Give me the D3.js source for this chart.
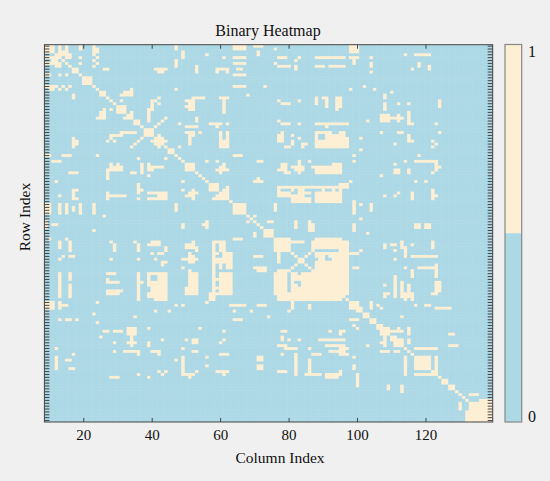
<!DOCTYPE html>
<html>
<head>
<meta charset="utf-8">
<script src="https://cdn.jsdelivr.net/npm/d3@7/dist/d3.min.js"></script>
<style>
  html, body { margin: 0; padding: 0; background: #f0f0f0; }
  svg { display: block; }
  text { font-family: "Liberation Serif", "Times New Roman", serif; fill: #111; }
</style>
</head>
<body>
<svg id="chart" width="550" height="481"></svg>
<script>
// ---------------- data ----------------
const rowIndex = d3.range(9, 140);      // row node indices (top -> bottom)
const colIndex = d3.range(9, 140);      // column node indices
const xTickValues = [20, 40, 60, 80, 100, 120];
const colorbarTicks = [0, 1];
const binaryValues = [0, 1];
// cells equal to 1, given as [rowStart, rowEnd, colStart, colEnd] (inclusive);
// the matrix is symmetric and its diagonal is 1
const onesBlocks = [
  // rows 9-52, cols 9-52
  [9,11,9,11],[9,10,13,13],[9,10,15,15],[9,10,19,19],[9,11,23,23],[9,10,47,47],[12,12,49,49],
  [11,11,13,14],[12,12,14,15],[13,13,15,16],[14,14,12,12],[12,13,16,16],
  [13,13,10,12],[15,15,10,12],[17,18,17,18],[20,22,20,22],
  [12,12,23,23],[14,14,23,23],[16,16,23,23],[17,17,26,26],[17,17,41,44],[18,18,42,42],
  [19,19,10,10],[19,19,13,13],[19,19,15,15],[24,24,10,11],[24,24,13,13],[24,24,15,15],
  [24,24,47,47],[27,27,17,17],[25,26,25,26],[26,26,31,32],[25,25,33,34],[30,32,30,32],
  [27,27,42,42],[28,28,41,41],[30,30,40,40],[31,31,39,39],[32,32,39,39],[34,35,39,39],
  [28,28,50,52],[30,30,50,52],[31,31,26,26],[32,34,25,26],[34,34,24,24],[31,31,28,28],
  [34,34,32,33],[36,36,35,35],[37,37,41,41],[36,36,42,42],[35,35,43,43],[34,34,44,44],
  [36,36,48,48],[37,37,50,52],[39,39,50,52],[38,40,38,40],[40,40,28,31],[39,39,33,35],
  [42,42,29,29],[41,43,17,17],[43,43,18,18],[41,41,37,37],[42,42,36,36],[43,43,35,35],
  [41,43,41,43],[42,42,40,44],[40,44,42,42],[43,43,51,51],[47,47,9,9],[47,47,14,16],
  [47,47,24,24],[49,49,11,13],[50,52,28,28],[51,52,31,31],[50,52,37,37],[51,52,40,40],
  [48,48,44,44],[46,46,45,45],[50,52,50,52],
  // rows 9-52, cols 52-95
  [9,10,64,67],[13,13,64,67],[15,15,64,67],[19,19,64,67],[17,17,65,66],
  [9,9,70,72],[11,12,71,71],[12,12,56,56],[13,13,61,61],
  [10,10,76,76],[13,13,77,79],[13,13,83,83],[13,13,88,95],
  [16,18,53,53],[17,17,59,62],[18,18,59,59],[18,18,62,62],
  [15,15,76,76],[16,16,77,80],[14,14,82,82],[16,17,82,82],[16,16,88,90],[16,16,92,95],
  [23,23,73,73],[23,23,64,67],[26,26,68,68],[27,27,52,55],[28,30,51,52],
  [27,27,60,62],[28,32,61,61],[28,28,77,77],[29,29,78,80],[28,28,83,83],
  [27,29,88,88],[27,27,90,91],[28,30,91,91],[27,31,94,94],
  [34,35,53,53],[36,36,57,60],[37,37,59,59],[36,36,62,62],
  [35,35,77,77],[36,36,78,80],[36,36,83,83],[36,36,88,95],[37,37,91,91],
  [37,37,51,53],[39,42,51,51],[40,40,52,52],[39,39,54,54],
  [39,44,60,60],[39,44,62,62],[42,44,61,61],
  [39,39,78,78],[40,41,77,78],[42,42,77,78],[44,44,79,80],[40,40,81,81],[42,43,81,81],
  [41,41,83,83],[43,44,84,84],[43,43,85,85],
  [39,39,88,92],[39,44,88,88],[42,44,89,90],[40,44,91,95],
  [49,49,56,56],[49,49,59,59],[50,51,61,61],[47,47,64,66],[49,49,71,72],[50,52,78,79],
  [51,51,81,81],[49,50,83,83],[49,49,86,86],[51,52,90,91],[50,52,93,95],
  // rows 9-52, cols 95-139
  [9,11,98,100],[13,13,95,96],[16,16,95,96],[13,13,98,100],[14,15,99,99],
  [13,13,104,104],[15,16,104,104],[18,18,104,104],
  [12,12,114,114],[12,12,117,121],[17,17,116,116],[15,16,118,118],[16,17,121,121],
  [24,24,98,98],[23,23,102,102],[24,24,105,105],[25,25,110,110],
  [26,27,108,108],[29,31,108,108],[33,35,107,109],
  [29,29,112,112],[29,29,115,115],[27,30,95,95],
  [34,34,110,113],[33,35,112,112],[32,36,115,115],[36,36,116,116],
  [28,30,124,124],[35,35,103,103],[36,36,95,97],[36,36,123,123],
  [39,44,95,96],[41,44,97,97],
  [41,41,101,101],[39,39,107,107],[39,39,112,113],[40,42,115,115],[42,42,116,116],[43,43,111,111],
  [42,42,122,122],[43,43,123,123],[44,44,122,122],[39,39,124,124],
  [45,45,101,101],[47,47,99,99],[49,49,99,99],
  [50,50,111,111],[49,49,114,114],[49,49,117,121],[47,47,118,118],[49,52,123,123],[49,49,122,122],
  // rows 52-95, cols 52-95
  [57,59,57,59],[58,61,62,62],[59,61,61,61],[60,61,60,60],[61,61,59,59],
  [60,60,51,53],[59,62,52,52],[52,52,59,61],[51,53,60,60],
  [56,56,70,72],[52,52,77,78],[53,53,79,80],[52,52,82,84],[52,52,88,95],
  [58,61,77,77],[60,61,78,79],[61,61,80,84],[59,59,81,81],[60,60,85,86],[58,58,86,86],
  [60,61,88,95],[58,59,90,90],[58,59,93,93],[59,59,95,95],
  [64,67,64,67],[68,68,68,68],[68,68,70,70],[69,69,69,69],[70,70,68,68],[70,70,70,70],
  [70,70,74,75],[73,75,73,75],[64,66,76,76],
  [71,72,82,82],[71,73,86,87],[71,71,55,55],[76,76,65,66],[74,74,70,70],
  [76,80,77,80],[77,77,81,84],
  [80,80,87,87],[81,81,86,86],[82,82,85,85],[83,83,84,84],[84,84,83,83],[85,85,82,82],[86,86,81,81],[87,87,80,80],
  [76,79,88,95],[81,82,88,90],[81,82,92,95],[83,83,89,90],[83,83,93,94],[85,95,88,95],
  [78,79,51,52],[81,84,51,51],[83,83,52,53],
  [77,86,58,58],[78,80,60,61],[81,86,62,63],[83,84,59,61],
  [82,82,70,72],[86,86,70,72],[87,95,51,51],[88,95,53,53],
  [87,95,58,58],[90,95,60,60],[88,95,62,63],
  [87,95,77,79],[88,95,81,81],[88,95,84,85],
  // rows 52-95, cols 95-139
  [57,58,95,97],[59,62,95,95],[56,56,98,98],[54,54,107,107],[52,53,111,112],[52,53,115,115],
  [53,53,122,122],[51,51,124,124],[56,56,117,117],[56,56,120,120],
  [61,61,108,108],[61,61,111,111],[60,60,112,112],[60,62,116,116],[59,62,122,122],[61,61,123,123],
  [63,67,99,99],[64,64,101,101],[64,66,104,104],[69,69,101,101],[71,73,99,99],[74,74,103,103],
  [71,72,117,118],[71,72,120,121],[77,95,95,97],
  [81,81,98,100],[80,80,101,101],[86,86,99,100],[78,79,108,108],
  [78,78,110,111],[77,79,113,113],[79,82,114,114],[80,80,111,111],[82,82,116,116],[78,78,116,116],
  [82,82,117,123],[77,79,122,122],
  [83,83,111,111],[86,86,114,114],[86,86,118,122],[85,89,123,123],[87,89,116,116],[89,95,111,111],
  [92,92,108,108],[91,95,113,113],[92,95,115,115],[91,94,123,124],
  // rows 95-139, cols 95-139
  [98,100,98,100],[100,100,101,101],[102,102,103,103],[104,104,105,105],[106,106,107,107],
  [107,109,107,109],[108,108,110,110],[107,107,112,112],[107,108,115,115],[110,110,111,111],[112,112,113,113],
  [117,121,117,121],[114,114,117,123],[123,123,117,122],
  [125,126,125,126],[127,128,127,128],
  [130,130,133,135],[133,139,133,139],[132,132,136,139],[133,135,130,130],[136,136,132,132],
  [95,96,108,108],[95,96,111,111],[95,96,113,113],[95,96,115,115],[95,95,123,123],
  [98,100,104,104],[100,100,107,107],
  [99,99,117,117],[99,99,120,121],[100,100,123,123],[100,100,125,127],
  [104,104,98,98],[106,106,99,99],[103,103,113,113],[109,109,127,128],
  [111,113,108,108],[111,112,111,113],[111,111,115,115],[113,113,127,129],
  [111,111,95,96],[114,114,95,97],[116,116,95,97],
  [109,109,95,95],[113,113,103,103],[115,115,107,109],[115,115,112,112],
  [117,117,99,99],[120,120,99,99],[122,123,95,95],[123,126,100,100],
  [127,128,109,109],[127,129,113,113]
];

// ---------------- build matrix ----------------
const ones = new Set();
const key = (r, c) => r + "_" + c;
onesBlocks.forEach(([r0, r1, c0, c1]) => {
  for (let r = r0; r <= r1; r++) for (let c = c0; c <= c1; c++) {
    ones.add(key(r, c)); ones.add(key(c, r));
  }
});
rowIndex.forEach(i => ones.add(key(i, i)));
const cells = [];
rowIndex.forEach(r => colIndex.forEach(c => cells.push({ r, c, v: ones.has(key(r, c)) ? 1 : 0 })));

// ---------------- layout ----------------
const W = 550, H = 481;
const plot = { left: 44.4, right: 492.7, top: 44.7, bottom: 422 };
const cbar = { left: 505, right: 521.7, top: 44.5, bottom: 422 };
const BLUE = "#add8e6", CREAM = "#fdefd3";

const svg = d3.select("#chart");
svg.append("rect").attr("width", W).attr("height", H).attr("fill", "#f0f0f0");

const x = d3.scaleBand().domain(colIndex).range([plot.left, plot.right]);
const y = d3.scaleBand().domain(rowIndex).range([plot.top, plot.bottom]);
const color = d3.scaleOrdinal().domain(binaryValues).range([BLUE, CREAM]);

svg.append("clipPath").attr("id", "clip").append("rect")
  .attr("x", plot.left).attr("y", plot.top)
  .attr("width", plot.right - plot.left).attr("height", plot.bottom - plot.top);

svg.append("g").attr("clip-path", "url(#clip)")
  .selectAll("rect").data(cells).join("rect")
  .attr("x", d => x(d.c)).attr("y", d => y(d.r))
  .attr("width", x.bandwidth() + 0.4).attr("height", y.bandwidth() + 0.4)
  .attr("fill", d => color(d.v));

// axes (ticks pointing inward, mirrored)
const tickColor = "#333";
function styleAxis(g) {
  g.select(".domain").remove();
  g.selectAll(".tick line").attr("stroke", tickColor).attr("stroke-width", 0.9);
}
svg.append("g").attr("transform", `translate(0,${plot.bottom})`)
  .call(d3.axisBottom(x).tickValues(xTickValues).tickSizeInner(-4).tickSizeOuter(0).tickPadding(7))
  .call(styleAxis)
  .call(g => g.selectAll(".tick text").style("font-family", "Liberation Serif, serif").style("font-size", "15px").attr("fill", "#111"));
svg.append("g").attr("transform", `translate(0,${plot.top})`)
  .call(d3.axisTop(x).tickValues(xTickValues).tickSizeInner(-4).tickSizeOuter(0).tickFormat(""))
  .call(styleAxis);
svg.append("g").attr("transform", `translate(${plot.left},0)`)
  .call(d3.axisLeft(y).tickSizeInner(-5).tickSizeOuter(0).tickFormat(""))
  .call(styleAxis);
svg.append("g").attr("transform", `translate(${plot.right},0)`)
  .call(d3.axisRight(y).tickSizeInner(-5).tickSizeOuter(0).tickFormat(""))
  .call(styleAxis);

// frame
svg.append("rect")
  .attr("x", plot.left).attr("y", plot.top)
  .attr("width", plot.right - plot.left).attr("height", plot.bottom - plot.top)
  .attr("fill", "none").attr("stroke", "#444").attr("stroke-width", 1);

// colorbar
const yc = d3.scaleLinear().domain([0, 1]).range([cbar.bottom, cbar.top]);
const cbSegments = [{ v: 1, from: 0.5, to: 1 }, { v: 0, from: 0, to: 0.5 }];
svg.append("g").selectAll("rect").data(cbSegments).join("rect")
  .attr("x", cbar.left).attr("y", d => yc(d.to))
  .attr("width", cbar.right - cbar.left).attr("height", d => yc(d.from) - yc(d.to))
  .attr("fill", d => color(d.v));
svg.append("rect")
  .attr("x", cbar.left).attr("y", cbar.top)
  .attr("width", cbar.right - cbar.left).attr("height", cbar.bottom - cbar.top)
  .attr("fill", "none").attr("stroke", "#888").attr("stroke-width", 1.2);
svg.append("g").selectAll("text").data(colorbarTicks).join("text")
  .attr("x", 528).attr("y", d => yc(d) + (d === 1 ? 7 : -6))
  .attr("dominant-baseline", "central")
  .style("font-size", "16px")
  .text(d => d);

// titles
svg.append("text").attr("x", 268).attr("y", 30)
  .attr("text-anchor", "middle").attr("dominant-baseline", "central")
  .style("font-size", "16px").text("Binary Heatmap");
svg.append("text").attr("x", 280).attr("y", 457)
  .attr("text-anchor", "middle").attr("dominant-baseline", "central")
  .style("font-size", "15.5px").text("Column Index");
svg.append("text")
  .attr("transform", `translate(24,217) rotate(-90)`)
  .attr("text-anchor", "middle").attr("dominant-baseline", "central")
  .style("font-size", "15.5px").text("Row Index");
</script>
</body>
</html>
